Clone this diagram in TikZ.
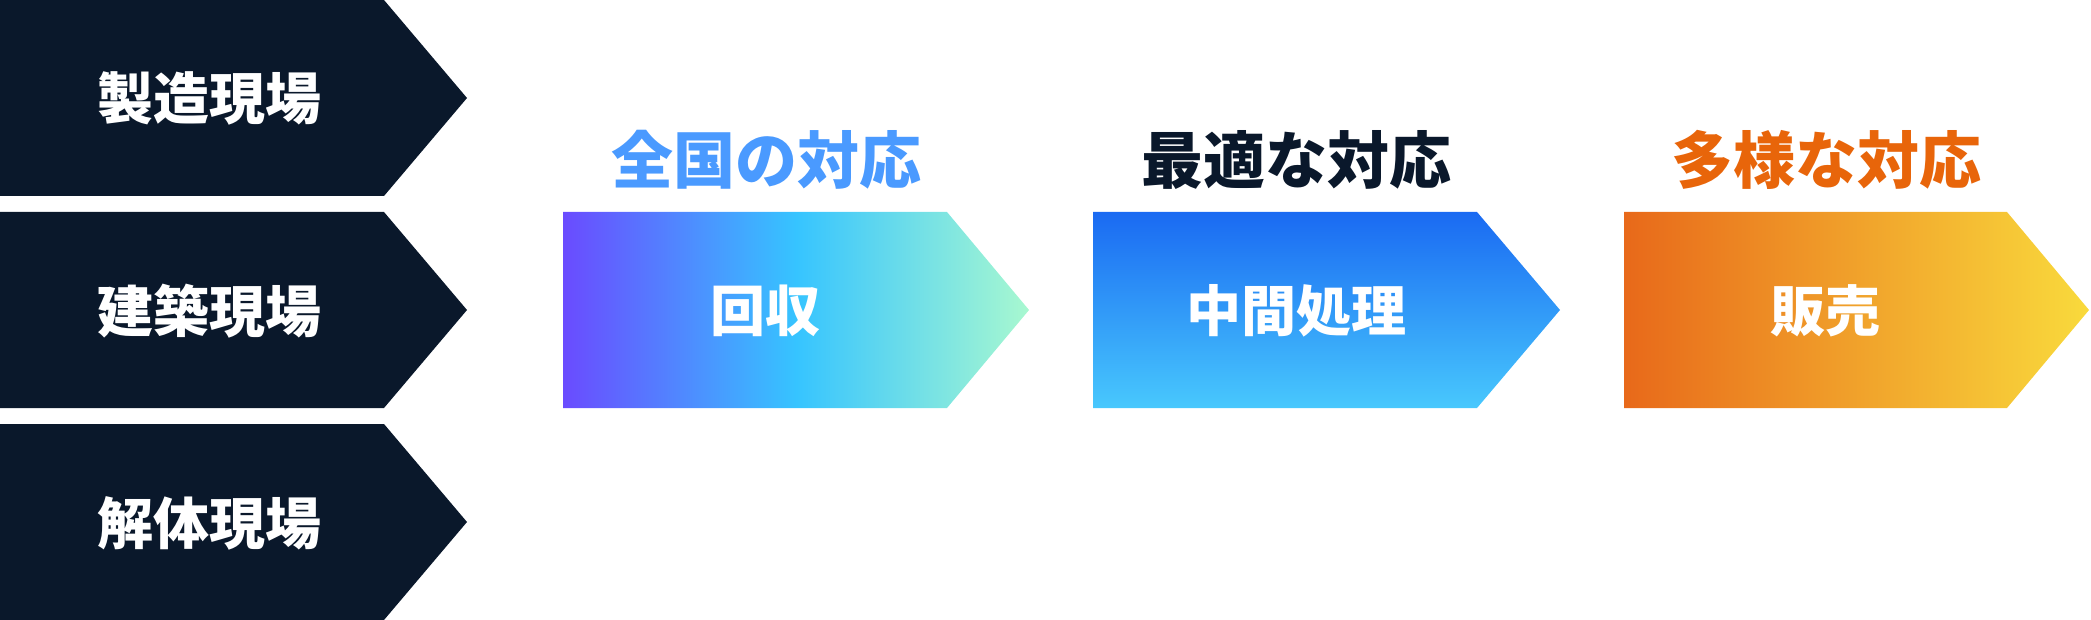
\documentclass[tikz,border=0pt]{standalone}
\usepackage{fontspec}
\setmainfont{Noto Sans CJK JP}
\definecolor{navy}{HTML}{0A182B}
\definecolor{tblue}{HTML}{4A9AFF}
\definecolor{torange}{HTML}{E8650A}
\definecolor{gpurple}{HTML}{6A4BFF}
\definecolor{gcyan}{HTML}{36C4FF}
\definecolor{gmint}{HTML}{A8F8D0}
\definecolor{gbtop}{HTML}{1A6AF2}
\definecolor{gbbot}{HTML}{48C8FD}
\definecolor{goleft}{HTML}{E8691A}
\definecolor{goright}{HTML}{F9DA3C}
\tikzset{
  srclbl/.style={text=white, font=\bfseries\fontsize{56}{60}\selectfont, inner sep=0pt},
  steplbl/.style={text=white, font=\bfseries\fontsize{55}{60}\selectfont, inner sep=0pt},
  ttl/.style={font=\bfseries\fontsize{62}{66}\selectfont, inner sep=0pt},
}
\begin{document}
\begin{tikzpicture}[x=1pt,y=-1pt]
\useasboundingbox (0,0) rectangle (2091,620);
% left arrows
\fill[navy] (0,0) -- (384,0) -- (467,98) -- (384,196) -- (0,196) -- cycle;
\fill[navy] (0,212) -- (384,212) -- (467,310) -- (384,408) -- (0,408) -- cycle;
\fill[navy] (0,424) -- (384,424) -- (467,522) -- (384,620) -- (0,620) -- cycle;
\node[srclbl] (s1) at (209,98) {製造現場};
\node[srclbl] (s2) at (209,311) {建築現場};
\node[srclbl] (s3) at (209,523) {解体現場};
% step arrows
\shade[left color=gpurple, right color=gmint, middle color=gcyan]
  (563,212) -- (947,212) -- (1029,310) -- (947,408) -- (563,408) -- cycle;
\shade[top color=gbtop, bottom color=gbbot]
  (1093,212) -- (1477,212) -- (1560,310) -- (1477,408) -- (1093,408) -- cycle;
\shade[left color=goleft, right color=goright]
  (1624,212) -- (2007,212) -- (2089,310) -- (2007,408) -- (1624,408) -- cycle;
\node[steplbl] (a1) at (765,311) {回収};
\node[steplbl] (a2) at (1296,311) {中間処理};
\node[steplbl] (a3) at (1825,311) {販売};
% titles
\node[ttl, text=tblue] (t1) at (766,160) {全国の対応};
\node[ttl, text=navy] (t2) at (1296,160) {最適な対応};
\node[ttl, text=torange] (t3) at (1826,160) {多様な対応};
\end{tikzpicture}
\end{document}
